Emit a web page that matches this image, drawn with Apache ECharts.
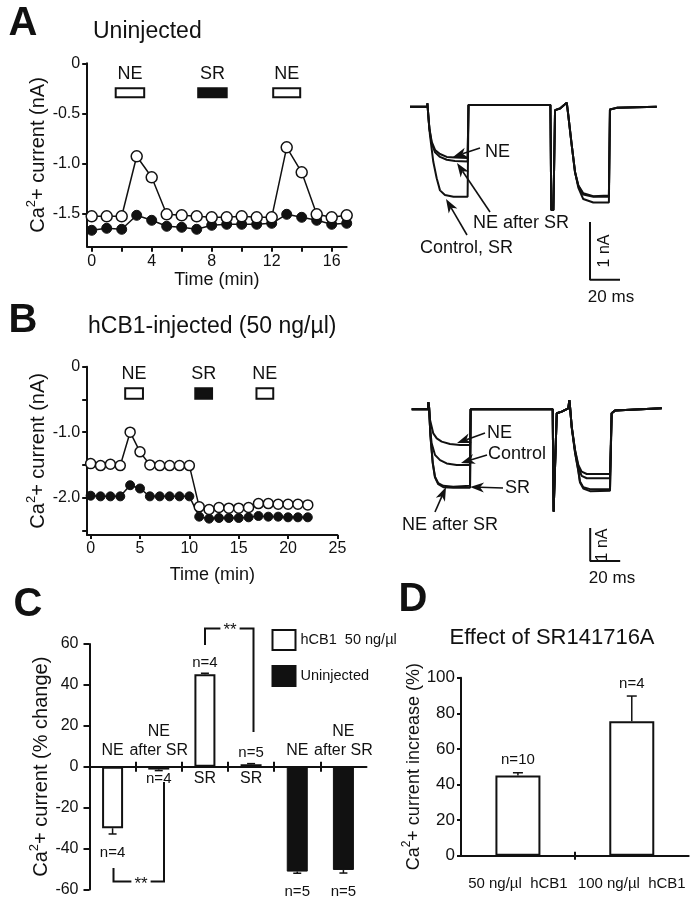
<!DOCTYPE html>
<html><head><meta charset="utf-8">
<script src="https://cdn.jsdelivr.net/npm/echarts@6/dist/echarts.min.js"></script>
<style>html,body{margin:0;padding:0;background:#fff}#c{width:696px;height:899px}</style>
</head><body><div id="c"></div>
<script>
const FONT='"Liberation Sans", Arial, Helvetica, sans-serif';
const K='#111';

// ---------- Panel A (uninjected time course) ----------
const timeA=[0,1,2,3,4,5,6,7,8,9,10,11,12,13,14,15,16,17];
const openA=[-1.53,-1.53,-1.53,-0.93,-1.14,-1.51,-1.52,-1.53,-1.54,-1.54,-1.53,-1.54,-1.54,-0.84,-1.09,-1.51,-1.54,-1.52];
const filledA=[-1.67,-1.65,-1.66,-1.52,-1.57,-1.63,-1.64,-1.66,-1.62,-1.61,-1.61,-1.61,-1.60,-1.51,-1.54,-1.57,-1.61,-1.60];
const drugNamesA=['NE','SR','NE'];
const drugStartA=[1.6,7.1,12.1];
const drugEndA=[3.5,9.0,13.9];
const drugFilledA=[false,true,false];
const yTicksA=[0,-0.5,-1.0,-1.5];
const xTicksA=[0,2,4,6,8,10,12,14,16];
const xLabelsA=[0,4,8,12,16];

// ---------- Panel B (hCB1-injected time course) ----------
const timeB=[0,1,2,3,4,5,6,7,8,9,10,11,12,13,14,15,16,17,18,19,20,21,22];
const openB=[-1.48,-1.51,-1.49,-1.51,-1.00,-1.30,-1.50,-1.51,-1.51,-1.51,-1.51,-2.14,-2.18,-2.15,-2.16,-2.16,-2.15,-2.09,-2.09,-2.10,-2.10,-2.10,-2.11];
const filledB=[-1.97,-1.98,-1.98,-1.98,-1.81,-1.86,-1.98,-1.98,-1.98,-1.98,-1.98,-2.29,-2.32,-2.31,-2.31,-2.31,-2.30,-2.28,-2.29,-2.29,-2.30,-2.30,-2.30];
const drugNamesB=['NE','SR','NE'];
const drugStartB=[3.5,10.6,16.8];
const drugEndB=[5.3,12.3,18.5];
const drugFilledB=[false,true,false];
const yTicksB=[0,-0.5,-1.0,-1.5,-2.0,-2.5];
const yLabelsB=[0,-1.0,-2.0];
const xTicksB=[0,5,10,15,20,25];

// ---------- Current traces (t in ms, I in nA) ----------
const traceA_control=[[0,0],[11.5,0],[11.6,0.06],[12.2,-0.15],[13.3,-0.49],[15.5,-0.95],[17.8,-1.24],[20,-1.45],[23.3,-1.53],[29,-1.56],[38.4,-1.56],[39,0.03],[60,0.03],[93.6,0.03],[94.2,-1.79],[95.6,-1.79],[96.7,-0.06],[100,-0.03],[104.5,0.07],[105.5,-0.14],[107.8,-0.66],[110,-1.13],[112.2,-1.40],[115.5,-1.60],[122.2,-1.66],[132.6,-1.66],[133.3,-0.05],[137.8,-0.02],[164.5,0]];
const traceA_NE=[[0,0],[11.5,0],[11.6,0.06],[12.2,-0.15],[12.9,-0.37],[14.5,-0.61],[16.7,-0.75],[20,-0.82],[24.5,-0.87],[30,-0.88],[38.4,-0.89],[39,0.03],[93.6,0.03],[94.2,-1.79],[95.6,-1.79],[96.7,-0.06],[100,-0.03],[104.5,0.07],[105.5,-0.14],[107.8,-0.66],[110,-1.13],[112.2,-1.36],[115.5,-1.50],[122.2,-1.55],[132.6,-1.54],[133.3,-0.05],[137.8,-0.02],[164.5,0]];
const traceA_NEafterSR=[[0,0],[11.5,0],[11.6,0.06],[12.2,-0.15],[12.9,-0.38],[14.5,-0.64],[16.7,-0.79],[20,-0.87],[24.5,-0.92],[30,-0.94],[38.4,-0.95],[39,0.03],[93.6,0.03],[94.2,-1.79],[95.6,-1.79],[96.7,-0.06],[100,-0.03],[104.5,0.07],[105.5,-0.14],[107.8,-0.66],[110,-1.13],[112.2,-1.37],[115.5,-1.52],[122.2,-1.56],[132.6,-1.56],[133.3,-0.05],[137.8,-0.02],[164.5,0]];
const scaleBarA=[[120,-2],[120,-3],[140,-3]];

const traceB_NE=[[0,0],[11,0],[11.1,0.22],[11.6,0.05],[12.2,-0.32],[14.4,-0.73],[16.7,-0.88],[20,-0.98],[25.5,-1.05],[32.2,-1.08],[38.9,-1.08],[39.3,0],[94,0],[94.6,-3.1],[95.8,-3.1],[96.7,-0.12],[100,-0.07],[104.4,0.03],[105.1,0.28],[105.6,0.05],[106.7,-0.53],[108.9,-1.23],[111.1,-1.69],[113.3,-1.89],[116.7,-1.96],[132.2,-1.96],[133.3,-0.12],[135.5,-0.04],[166.7,0.03]];
const traceB_control=[[0,0],[11,0],[11.1,0.22],[11.6,0.05],[12.3,-0.6],[13.3,-1.03],[15.5,-1.38],[18.9,-1.54],[23.3,-1.64],[30,-1.69],[38.9,-1.69],[39.3,0],[94,0],[94.6,-3.1],[95.8,-3.1],[96.7,-0.12],[100,-0.07],[104.4,0.03],[105.1,0.28],[105.6,0.05],[106.7,-0.53],[108.9,-1.25],[111.1,-1.75],[113.3,-2.02],[116.7,-2.09],[132.2,-2.09],[133.3,-0.12],[135.5,-0.04],[166.7,0.03]];
const traceB_SR=[[0,0],[11,0],[11.1,0.22],[11.6,0.05],[12.5,-0.8],[14,-1.6],[15.5,-2.04],[17.7,-2.24],[21.1,-2.32],[27.7,-2.35],[38.9,-2.32],[39.3,0],[94,0],[94.6,-3.1],[95.8,-3.1],[96.7,-0.12],[100,-0.07],[104.4,0.03],[105.1,0.28],[105.6,0.05],[106.7,-0.55],[108.9,-1.30],[111.1,-1.85],[112.2,-2.19],[114.4,-2.36],[118.9,-2.42],[132.2,-2.42],[133.3,-0.12],[135.5,-0.04],[166.7,0.03]];
const traceB_NEafterSR=[[0,0],[11,0],[11.1,0.22],[11.6,0.05],[12.5,-0.82],[14,-1.63],[15.5,-2.06],[17.7,-2.27],[21.1,-2.36],[27.7,-2.38],[38.9,-2.38],[39.3,0],[94,0],[94.6,-3.1],[95.8,-3.1],[96.7,-0.12],[100,-0.07],[104.4,0.03],[105.1,0.28],[105.6,0.05],[106.7,-0.56],[108.9,-1.32],[111.1,-1.88],[112.2,-2.22],[114.4,-2.40],[118.9,-2.48],[132.2,-2.47],[133.3,-0.12],[135.5,-0.04],[166.7,0.03]];
const scaleBarB=[[119,-3.6],[119,-4.6],[139,-4.6]];

// ---------- Panel C ----------
const catC=['NE','NE\nafter SR','SR','SR','NE','NE\nafter SR'];
const hcb1C=[-30.1,-1.4,45.2,1.2];
const hcb1ErrC=[2.8,0.5,0.5,0.3];
const uninjC=[-51.3,-50.5];
const uninjErrC=[0.8,1.5];
const nC=[4,4,4,5,5,5];

// ---------- Panel D ----------
const catD=['50 ng/\u00b5l  hCB1','100 ng/\u00b5l  hCB1'];
const valD=[45,75.5];
const errD=[1.6,14.2];
const nD=[10,4];

// ================= build =================
const chart=echarts.init(document.getElementById('c'),null,{renderer:'canvas',width:696,height:899});

function ax(extra){
  const base={
    axisLine:{show:true,onZero:false,lineStyle:{color:K,width:2}},
    axisTick:{show:true,length:5,lineStyle:{color:K,width:2}},
    axisLabel:{color:K,fontFamily:FONT,fontSize:16},
    splitLine:{show:false}
  };
  const o=Object.assign({},base,extra);
  ['axisLine','axisTick','axisLabel'].forEach(k=>{ if(extra[k]) o[k]=Object.assign({},base[k],extra[k]); });
  return o;
}
function nameRich(big,small,lh){
  return {rich:{n:{fontSize:big,fontFamily:FONT,color:K,lineHeight:lh,verticalAlign:'bottom'},
                s:{fontSize:small,fontFamily:FONT,color:K,verticalAlign:'top'}}};
}
function yName(rest){return '{n|Ca}{s|2}{n|+ '+rest+'}';}
const fmt1=v=>v===0?'0':v.toFixed(1);

function drugAreas(names,st,en,filled,y1,y2){
  return names.map((n,i)=>[
    {name:n,coord:[st[i],y1],itemStyle:{color:filled[i]?K:'#fff',borderColor:K,borderWidth:2}},
    {coord:[en[i],y2]}
  ]);
}
const mkLabel={show:true,position:'top',distance:4,color:K,fontFamily:FONT,fontSize:18};

const lineOpen={type:'line',symbol:'circle',lineStyle:{color:K,width:1.5},itemStyle:{color:'#fff',borderColor:K,borderWidth:1.5},z:3};
const lineFilled={type:'line',symbol:'circle',lineStyle:{color:K,width:1.5},itemStyle:{color:K,borderColor:K,borderWidth:1},z:2};
const traceStyle={type:'line',symbol:'none',showSymbol:false,lineStyle:{color:K,width:2},silent:true};

function errSeries(xi,yi,data,cap){
  return {type:'custom',xAxisIndex:xi,yAxisIndex:yi,silent:true,z:5,data:data,
    renderItem:function(p,api){
      const x=api.value(0),v=api.value(1),e=api.value(2);
      const s=v>=0?1:-1;
      const p0=api.coord([x,v]),p1=api.coord([x,v+s*e]);
      return {type:'group',children:[
        {type:'line',shape:{x1:p0[0],y1:p0[1],x2:p1[0],y2:p1[1]},style:{stroke:K,lineWidth:1.5}},
        {type:'line',shape:{x1:p1[0]-cap/2,y1:p1[1],x2:p1[0]+cap/2,y2:p1[1]},style:{stroke:K,lineWidth:1.5}}
      ]};
    }};
}

const valsC=hcb1C.concat(uninjC);
const errsC=hcb1ErrC.concat(uninjErrC);

// graphics
function txt(x,y,s,size,o){
  o=o||{};
  return {type:'text',x:x,y:y,rotation:o.rot||0,z:20,silent:true,
    style:{text:s,fontFamily:FONT,fontSize:size,fontWeight:o.fw||'normal',fill:K,
      align:o.al||'left',verticalAlign:'middle',backgroundColor:o.bg,padding:o.pad}};
}
function arrow(x1,y1,x2,y2){
  const dx=x2-x1,dy=y2-y1,L=Math.hypot(dx,dy),ux=dx/L,uy=dy/L,px=-uy,py=ux;
  const hl=14,hw=5,notch=4;
  const bx=x2-ux*hl,by=y2-uy*hl,nx=x2-ux*(hl-notch),ny=y2-uy*(hl-notch);
  return [
    {type:'line',z:20,silent:true,shape:{x1:x1,y1:y1,x2:nx,y2:ny},style:{stroke:K,lineWidth:1.6}},
    {type:'polygon',z:20,silent:true,shape:{points:[[x2,y2],[bx+px*hw,by+py*hw],[nx,ny],[bx-px*hw,by-py*hw]]},style:{fill:K}}
  ];
}
const graphics=[
  txt(23,24,'A',40,{fw:'bold',al:'center'}),
  txt(93,32,'Uninjected',23),
  txt(23,321,'B',40,{fw:'bold',al:'center'}),
  txt(88,327,'hCB1-injected (50 ng/\u00b5l)',23),
  txt(28,605,'C',40,{fw:'bold',al:'center'}),
  txt(413,600,'D',40,{fw:'bold',al:'center'}),
  txt(552,638,'Effect of SR141716A',22,{al:'center'}),
  // trace labels A
  txt(485,152,'NE',18), txt(473,223,'NE after SR',18), txt(420,248,'Control, SR',18),
  ...arrow(480,148,453,157), ...arrow(490,212,457,163), ...arrow(467,235,446,199),
  txt(605,251,'1 nA',16,{rot:Math.PI/2,al:'center'}), txt(611,297,'20 ms',17,{al:'center'}),
  // trace labels B
  txt(487,433,'NE',18), txt(488,454,'Control',18), txt(505,488,'SR',18), txt(402,525,'NE after SR',18),
  ...arrow(485,433,457,443), ...arrow(487,455,461,463), ...arrow(503,488,470,487), ...arrow(435,512,446,487),
  txt(603,545,'1 nA',16,{rot:Math.PI/2,al:'center'}), txt(612,578,'20 ms',17,{al:'center'}),
  // brackets C
  {type:'polyline',z:20,silent:true,shape:{points:[[205,645],[205,628.5],[253.5,628.5],[253.5,732]]},style:{stroke:K,lineWidth:2,fill:null}},
  txt(230,630,'**',17,{al:'center',bg:'#fff',pad:[0,3]}),
  {type:'polyline',z:20,silent:true,shape:{points:[[113.5,868],[113.5,881.5],[164,881.5],[164,782]]},style:{stroke:K,lineWidth:2,fill:null}},
  txt(141,884,'**',17,{al:'center',bg:'#fff',pad:[0,3]})
];

const labelScatter={type:'scatter',symbolSize:0,silent:true,z:6,itemStyle:{opacity:1},emphasis:{disabled:true}};

const option={
  animation:false,
  backgroundColor:'#fff',
  textStyle:{fontFamily:FONT,color:K},
  legend:{orient:'vertical',left:271.5,top:629,padding:0,itemWidth:23,itemHeight:20,itemGap:14,icon:'rect',selectedMode:false,
    textStyle:{fontFamily:FONT,fontSize:14.5,color:K},
    data:[{name:'hCB1  50 ng/\u00b5l',itemStyle:{color:'#fff',borderColor:K,borderWidth:2}},{name:'Uninjected',itemStyle:{color:K}}]},
  grid:[
    {left:87.2,top:63.3,width:259.5,height:183.4,outerBoundsMode:'none'},
    {left:410,top:77.85,width:255,height:213.5,outerBoundsMode:'none'},
    {left:87.2,top:366.7,width:250.2,height:168.3,outerBoundsMode:'none'},
    {left:411.7,top:392.8,width:255,height:181.5,outerBoundsMode:'none'},
    {left:89.5,top:644,width:277,height:245.4,outerBoundsMode:'none'},
    {left:461,top:677.7,width:227.7,height:178,outerBoundsMode:'none'},
    {left:89.5,top:644,width:277,height:122.7,outerBoundsMode:'none'},
    {left:461,top:677.7,width:227.7,height:178,outerBoundsMode:'none'}
  ],
  xAxis:[
    ax({gridIndex:0,type:'value',min:-0.3,max:17,position:'bottom',
      axisTick:{customValues:xTicksA,length:5},axisLabel:{customValues:xLabelsA,margin:7},
      name:'Time (min)',nameLocation:'middle',nameGap:23,nameTextStyle:{fontFamily:FONT,fontSize:18,color:K}}),
    {gridIndex:1,type:'value',min:0,max:170,show:false},
    ax({gridIndex:2,type:'value',min:-0.35,max:25,position:'bottom',
      axisTick:{customValues:xTicksB,length:4},axisLabel:{customValues:xTicksB,margin:6},
      name:'Time (min)',nameLocation:'middle',nameGap:31,nameTextStyle:{fontFamily:FONT,fontSize:18,color:K}}),
    {gridIndex:3,type:'value',min:0,max:170,show:false},
    ax({gridIndex:4,type:'value',min:-0.5,max:5.5,position:'bottom',
      axisLine:{onZero:true},axisTick:{customValues:[0.5,1.5,2.5,3.5,4.5],length:5},axisLabel:{show:false}}),
    ax({gridIndex:6,type:'value',min:-0.5,max:5.5,position:'bottom',
      axisLine:{show:false},axisTick:{customValues:[0.5,1.5,2.5,3.5,4.5],length:5,inside:true},axisLabel:{show:false}}),
    ax({gridIndex:5,type:'value',min:-0.5,max:1.5,position:'bottom',
      axisLine:{onZero:true},axisTick:{customValues:[0.5],length:4},
      axisLabel:{customValues:[0,1],formatter:v=>catD[Math.round(v)],fontFamily:FONT,fontSize:15,margin:21,hideOverlap:false}}),
    ax({gridIndex:7,type:'value',min:-0.5,max:1.5,position:'bottom',
      axisLine:{show:false},axisTick:{customValues:[0.5],length:4,inside:true},axisLabel:{show:false}})
  ],
  yAxis:[
    ax({gridIndex:0,type:'value',min:-1.834,max:0,
      axisTick:{customValues:yTicksA,length:5},axisLabel:{customValues:yTicksA,formatter:fmt1,margin:7},
      name:yName('current (nA)'),nameLocation:'middle',nameRotate:90,nameGap:36,nameTextStyle:nameRich(20,13,24)}),
    {gridIndex:1,type:'value',min:-3.2,max:0.5,show:false},
    ax({gridIndex:2,type:'value',min:-2.57,max:0,
      axisTick:{customValues:yTicksB,length:5},axisLabel:{customValues:yLabelsB,formatter:fmt1,margin:7},
      name:yName('current (nA)'),nameLocation:'middle',nameRotate:90,nameGap:38,nameTextStyle:nameRich(20,13,24)}),
    {gridIndex:3,type:'value',min:-5,max:0.5,show:false},
    ax({gridIndex:4,type:'value',min:-60,max:60,interval:20,
      axisTick:{length:6},axisLabel:{margin:11},
      name:yName('current (% change)'),nameLocation:'middle',nameRotate:90,nameGap:31,nameTextStyle:nameRich(20,13,24)}),
    ax({gridIndex:5,type:'value',min:0,max:100,interval:20,
      axisTick:{length:4},axisLabel:{margin:6,fontSize:17},
      name:yName('current increase (%)'),nameLocation:'middle',nameRotate:90,nameGap:24,nameTextStyle:nameRich(18,12,22)}),
    {gridIndex:6,type:'value',min:0,max:1,show:false},
    {gridIndex:7,type:'value',min:0,max:1,show:false}
  ],
  graphic:{elements:graphics},
  series:[
    // A time course
    Object.assign({},lineFilled,{xAxisIndex:0,yAxisIndex:0,symbolSize:10,data:timeA.map((t,i)=>[t,filledA[i]])}),
    Object.assign({},lineOpen,{xAxisIndex:0,yAxisIndex:0,symbolSize:11,data:timeA.map((t,i)=>[t,openA[i]]),
      markArea:{silent:true,label:mkLabel,data:drugAreas(drugNamesA,drugStartA,drugEndA,drugFilledA,-0.25,-0.34)}}),
    // A traces
    Object.assign({},traceStyle,{xAxisIndex:1,yAxisIndex:1,data:traceA_control}),
    Object.assign({},traceStyle,{xAxisIndex:1,yAxisIndex:1,data:traceA_NE}),
    Object.assign({},traceStyle,{xAxisIndex:1,yAxisIndex:1,data:traceA_NEafterSR}),
    Object.assign({},traceStyle,{xAxisIndex:1,yAxisIndex:1,data:scaleBarA}),
    // B time course
    Object.assign({},lineFilled,{xAxisIndex:2,yAxisIndex:2,symbolSize:9,data:timeB.map((t,i)=>[t,filledB[i]])}),
    Object.assign({},lineOpen,{xAxisIndex:2,yAxisIndex:2,symbolSize:10,data:timeB.map((t,i)=>[t,openB[i]]),
      markArea:{silent:true,label:mkLabel,data:drugAreas(drugNamesB,drugStartB,drugEndB,drugFilledB,-0.33,-0.49)}}),
    // B traces
    Object.assign({},traceStyle,{xAxisIndex:3,yAxisIndex:3,data:traceB_NE}),
    Object.assign({},traceStyle,{xAxisIndex:3,yAxisIndex:3,data:traceB_control}),
    Object.assign({},traceStyle,{xAxisIndex:3,yAxisIndex:3,data:traceB_SR}),
    Object.assign({},traceStyle,{xAxisIndex:3,yAxisIndex:3,data:traceB_NEafterSR}),
    Object.assign({},traceStyle,{xAxisIndex:3,yAxisIndex:3,data:scaleBarB}),
    // C bars
    {type:'bar',name:'hCB1  50 ng/\u00b5l',xAxisIndex:4,yAxisIndex:4,barWidth:21,barGap:'-100%',
      itemStyle:{color:'#fff',borderColor:K,borderWidth:2},data:hcb1C.map((v,i)=>[i,v])},
    {type:'bar',name:'Uninjected',xAxisIndex:4,yAxisIndex:4,barWidth:21,barGap:'-100%',
      itemStyle:{color:K,borderColor:K,borderWidth:1},data:uninjC.map((v,i)=>[i+hcb1C.length,v])},
    errSeries(4,4,valsC.map((v,i)=>[i,v,errsC[i]]),8),
    Object.assign({},labelScatter,{xAxisIndex:4,yAxisIndex:4,
      label:{show:true,color:K,fontFamily:FONT,fontSize:16,lineHeight:19},
      data:catC.map((c,i)=>({value:[i,0],label:{formatter:c,position:valsC[i]<0?'top':'bottom',distance:valsC[i]<0?7:2}}))}),
    Object.assign({},labelScatter,{xAxisIndex:4,yAxisIndex:4,
      label:{show:true,color:K,fontFamily:FONT,fontSize:15},
      data:valsC.map((v,i)=>{const s=v<0?-1:1;return {value:[i,v+s*errsC[i]],label:{formatter:'n='+nC[i],position:s<0?'bottom':'top',distance:s<0?(Math.abs(v)<5?1:11):3}};})}),
    // D bars
    {type:'bar',xAxisIndex:6,yAxisIndex:5,barWidth:45,itemStyle:{color:'#fff',borderColor:K,borderWidth:2},data:valD.map((v,i)=>[i,v])},
    errSeries(6,5,valD.map((v,i)=>[i,v,errD[i]]),10),
    Object.assign({},labelScatter,{xAxisIndex:6,yAxisIndex:5,
      label:{show:true,color:K,fontFamily:FONT,fontSize:15,position:'top',distance:5},
      data:valD.map((v,i)=>({value:[i,v+errD[i]],label:{formatter:'n='+nD[i]}}))})
  ]
};
chart.setOption(option);
</script></body></html>
